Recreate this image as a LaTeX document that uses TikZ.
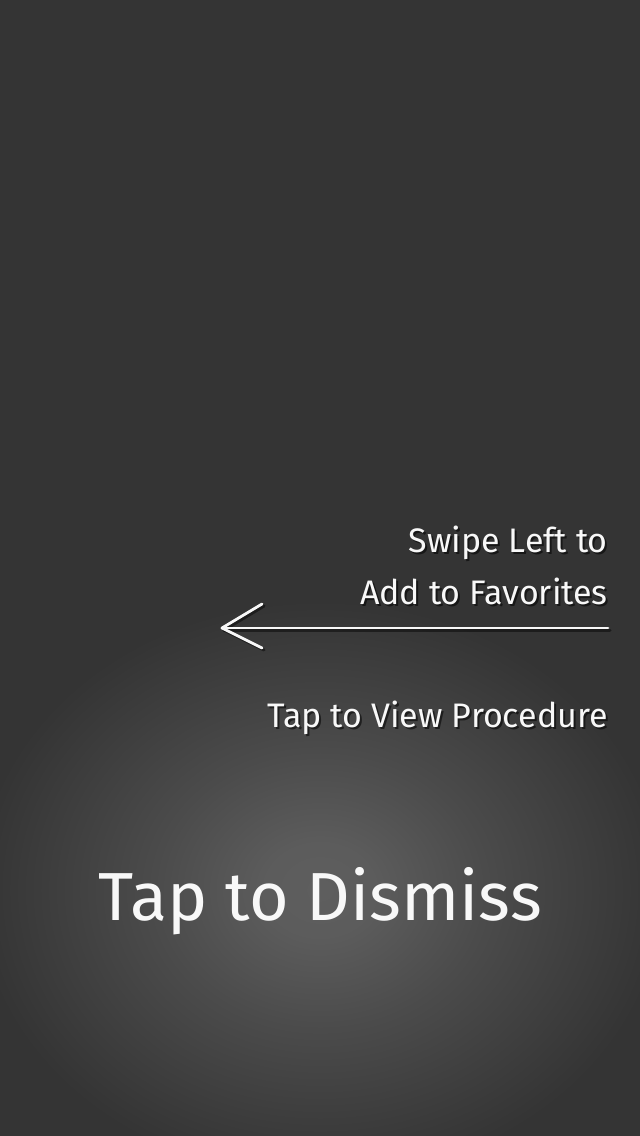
\documentclass[tikz,border=0pt]{standalone}
\usepackage{fontspec}
\setmainfont{Fira Sans}
\definecolor{bg}{HTML}{343434}
\definecolor{glow}{HTML}{5E5E5E}
\definecolor{ink}{HTML}{F8F8F8}
\pgfdeclareradialshading{glowshade}{\pgfpoint{0bp}{0bp}}{color(0bp)=(glow); color(4bp)=(glow!95!bg); color(12bp)=(glow!55!bg); color(25bp)=(bg); color(50bp)=(bg)}
\tikzset{
  hand/.style={text=ink, inner sep=0pt, font=#1},
  shadowtext/.style={text=black, inner sep=0pt, font=#1, opacity=0.55},
  chalk/.style={draw=ink, line width=2.8pt, line cap=round, line join=round},
  chalkshadow/.style={draw=black, opacity=0.45, line width=3pt, line cap=round, line join=round}
}
\begin{document}
\begin{tikzpicture}[x=1pt,y=-1pt]
\useasboundingbox (0,0) rectangle (640,1136);
\fill[bg] (0,0) rectangle (640,1136);
\begin{scope}
\clip (0,0) rectangle (640,1136);
\path[shading=glowshade] (320,890) ellipse [x radius=345, y radius=290];
\end{scope}
% texts with subtle shadows
\node[shadowtext={\fontsize{34}{40}\selectfont}, anchor=base east] at (610,554) {Swipe Left to};
\node[hand={\fontsize{34}{40}\selectfont}, anchor=base east] (swipe) at (608,552) {Swipe Left to};
\node[shadowtext={\fontsize{34}{40}\selectfont}, anchor=base east] at (610,606) {Add to Favorites};
\node[hand={\fontsize{34}{40}\selectfont}, anchor=base east] (fav) at (608,604) {Add to Favorites};
\coordinate (tail) at (608,628);
\coordinate (head) at (222,628);
\coordinate (barbA) at (262,604);
\coordinate (barbB) at (262,648);
\coordinate (stail) at (610,630);
\coordinate (shead) at (224,630);
\coordinate (sbarbA) at (264,606);
\coordinate (sbarbB) at (264,650);
\draw[chalkshadow] (stail) -- (shead);
\draw[chalkshadow] (sbarbA) -- (shead) -- (sbarbB);
\draw[chalk] (tail) -- (head);
\draw[chalk] (barbA) -- (head) -- (barbB);
\node[shadowtext={\fontsize{34}{40}\selectfont}, anchor=base east] at (610,729) {Tap to View Procedure};
\node[hand={\fontsize{34}{40}\selectfont}, anchor=base east] (view) at (608,727) {Tap to View Procedure};
\node[hand={\fontsize{68}{76}\selectfont}, anchor=base] (dismiss) at (320,920) {Tap to Dismiss};
\end{tikzpicture}
\end{document}
